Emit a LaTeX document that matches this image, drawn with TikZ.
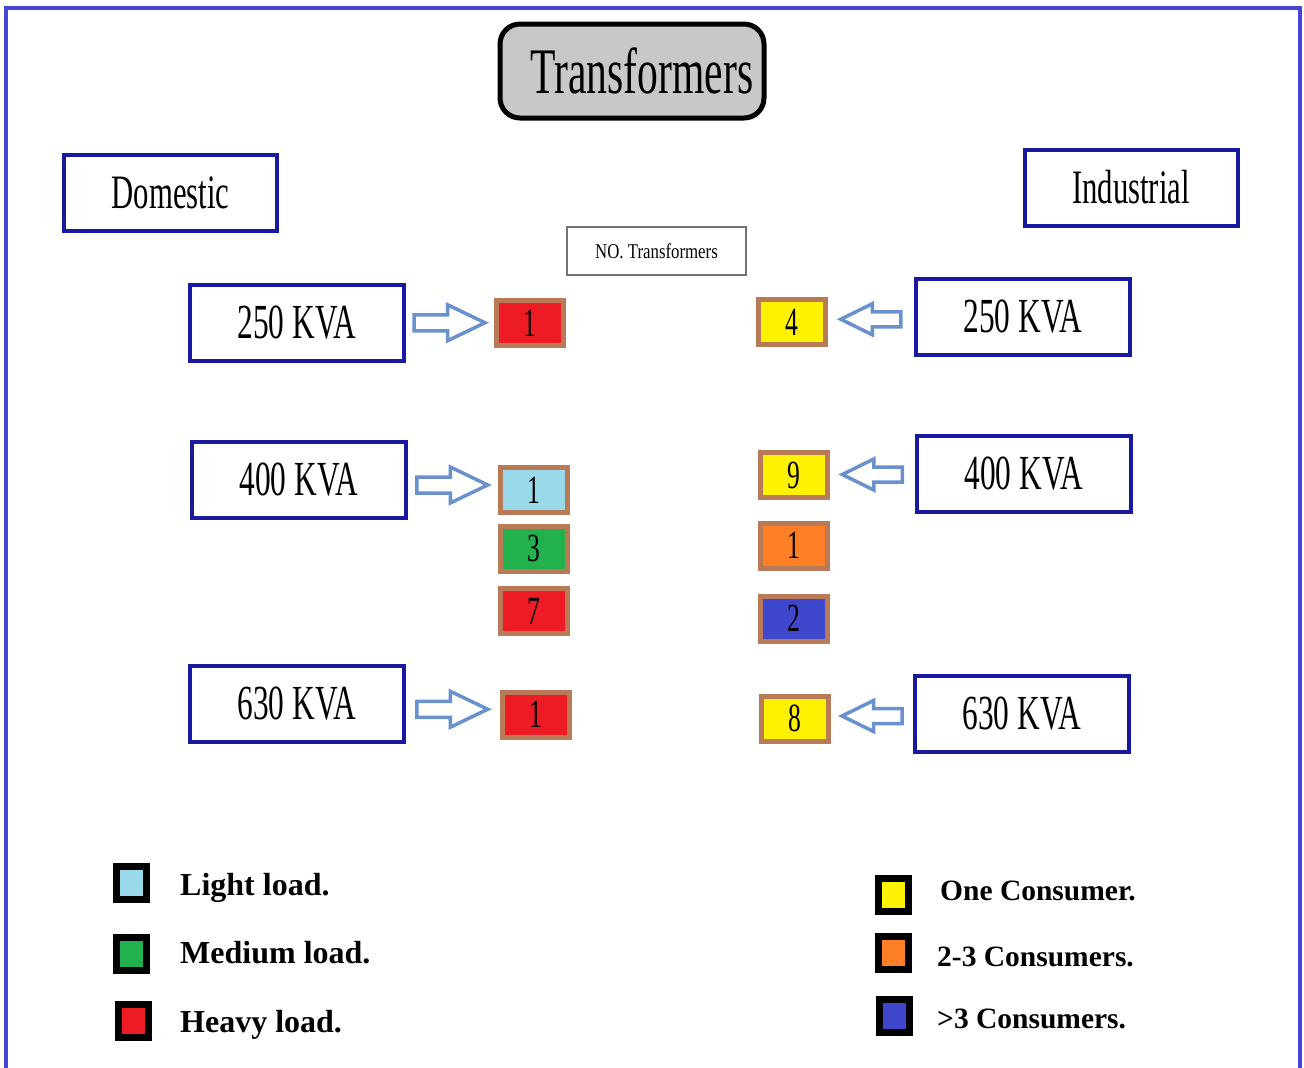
\documentclass[tikz,border=0pt]{standalone}
\usepackage{fontspec}
\setmainfont{Liberation Serif}
\newfontfamily\condfont[FakeStretch=0.64]{Liberation Serif}
\newfontfamily\notefont[FakeStretch=0.8]{Liberation Serif}
\usetikzlibrary{calc}

\definecolor{frameblue}{RGB}{70,70,210}
\definecolor{navy}{RGB}{25,25,160}
\definecolor{arrowblue}{RGB}{105,145,205}
\definecolor{edgebrown}{RGB}{185,122,87}
\definecolor{titlegray}{RGB}{200,200,200}
\definecolor{heavyred}{RGB}{237,28,36}
\definecolor{lightcyan}{RGB}{153,217,234}
\definecolor{midgreen}{RGB}{34,177,76}
\definecolor{oneyellow}{RGB}{255,242,0}
\definecolor{feworange}{RGB}{255,127,39}
\definecolor{manyblue}{RGB}{63,72,204}

\begin{document}
\begin{tikzpicture}[x=1pt,y=-1pt,
  groupbox/.style={draw=navy, line width=4pt, minimum width=213pt, minimum height=76pt,
    inner sep=0pt, font=\condfont\fontsize{48}{54}\selectfont},
  kvabox/.style={draw=navy, line width=4pt, minimum width=214pt, minimum height=76pt,
    inner sep=0pt, font=\condfont\fontsize{49}{55}\selectfont},
  countbox/.style={draw=edgebrown, line width=5pt, minimum width=67pt, minimum height=45pt,
    inner sep=0pt, font=\condfont\fontsize{40}{44}\selectfont},
  arrowline/.style={draw=arrowblue, fill=white, line width=3.5pt, line join=miter},
  rarrow/.pic={\path[arrowline] (-36,-8) -- (-2.5,-8) -- (-2.5,-18) -- (35,0)
      -- (-2.5,18) -- (-2.5,8) -- (-36,8) -- cycle;},
  larrow/.pic={\path[arrowline] (30,-7.5) -- (1.5,-7.5) -- (1.5,-15.5) -- (-30,0)
      -- (1.5,15.5) -- (1.5,7.5) -- (30,7.5) -- cycle;},
  keybox/.style={draw=black, line width=7pt, minimum width=30pt, minimum height=33pt, inner sep=0pt},
  keytext/.style={anchor=base west, inner sep=0pt, font=\bfseries\fontsize{29.5}{33}\selectfont},
  loadtext/.style={keytext, font=\bfseries\fontsize{32}{36}\selectfont}
]
\useasboundingbox (0,0) rectangle (1304,1068);
\fill[white] (0,0) rectangle (1304,1068);

% outer frame
\draw[frameblue, line width=4pt] (6,1070) -- (6,8) -- (1300,8) -- (1300,1070);

% title
\node[draw=black, line width=5pt, fill=titlegray, rounded corners=20pt,
      minimum width=264pt, minimum height=94pt, inner sep=0pt,
      font=\condfont\fontsize{65}{70}\selectfont] (title) at (632,71) {\hspace{20pt}Transformers};

% groups
\node[groupbox] (dom) at (170.5,193) {Domestic};
\node[groupbox] (ind) at (1131,187.5) {Industrial};

\node[draw=black!55, line width=1.5pt, minimum width=179pt, minimum height=48pt, inner sep=0pt,
      font=\notefont\fontsize{21}{24}\selectfont] (note) at (656.5,251) {NO. Transformers};

% domestic ratings
\node[kvabox] (dk250) at (297,322.5) {250 KVA};
\node[kvabox] (dk400) at (299,480) {400 KVA};
\node[kvabox] (dk630) at (297,704) {630 KVA};

% industrial ratings
\node[kvabox] (ik250) at (1023,316.5) {250 KVA};
\node[kvabox] (ik400) at (1024,474) {400 KVA};
\node[kvabox] (ik630) at (1022,713.5) {630 KVA};

% domestic counts
\node[countbox, fill=heavyred] (dc250) at (530,323) {1};
\node[countbox, fill=lightcyan] (dl400) at (533.5,490) {1};
\node[countbox, fill=midgreen] (dm400) at (533.5,548.5) {3};
\node[countbox, fill=heavyred] (dh400) at (533.5,611) {7};
\node[countbox, fill=heavyred] (dc630) at (535.5,714.5) {1};

% industrial counts
\node[countbox, fill=oneyellow] (ic250) at (791.5,322) {4};
\node[countbox, fill=oneyellow] (iy400) at (793.5,475) {9};
\node[countbox, fill=feworange] (io400) at (793.5,545.5) {1};
\node[countbox, fill=manyblue] (ib400) at (793.5,618.5) {2};
\node[countbox, fill=oneyellow] (iy630) at (795,718.5) {8};

% block arrows between each rating and its counts
\pic (a1) at ($(dk250.east)!0.5!(dc250.west)$) {rarrow};
\pic (a2) at ($(dk400.east)!0.5!(dl400.west)$) {rarrow};
\pic (a3) at ($(dk630.east)!0.5!(dc630.west)$) {rarrow};
\pic (a4) at ($(ik250.west)!0.5!(ic250.east)$) {larrow};
\pic (a5) at ($(ik400.west)!0.5!(iy400.east)$) {larrow};
\pic (a6) at ($(ik630.west)!0.5!(iy630.east)$) {larrow};

% load legend
\node[keybox, fill=lightcyan] (k1) at (131.5,883) {};
\node[keybox, fill=midgreen] (k2) at (131.5,954) {};
\node[keybox, fill=heavyred] (k3) at (133,1020.5) {};
\node[loadtext] (t1) at (180,895) {Light load.};
\node[loadtext] (t2) at (180,963) {Medium load.};
\node[loadtext] (t3) at (180,1032) {Heavy load.};

% consumer legend
\node[keybox, fill=oneyellow] (k4) at (893,895) {};
\node[keybox, fill=feworange] (k5) at (893,953) {};
\node[keybox, fill=manyblue] (k6) at (894.5,1015.5) {};
\node[keytext] (t4) at (940,900) {One Consumer.};
\node[keytext] (t5) at (937,966) {2-3 Consumers.};
\node[keytext] (t6) at (937,1028) {>3 Consumers.};
\end{tikzpicture}
\end{document}
